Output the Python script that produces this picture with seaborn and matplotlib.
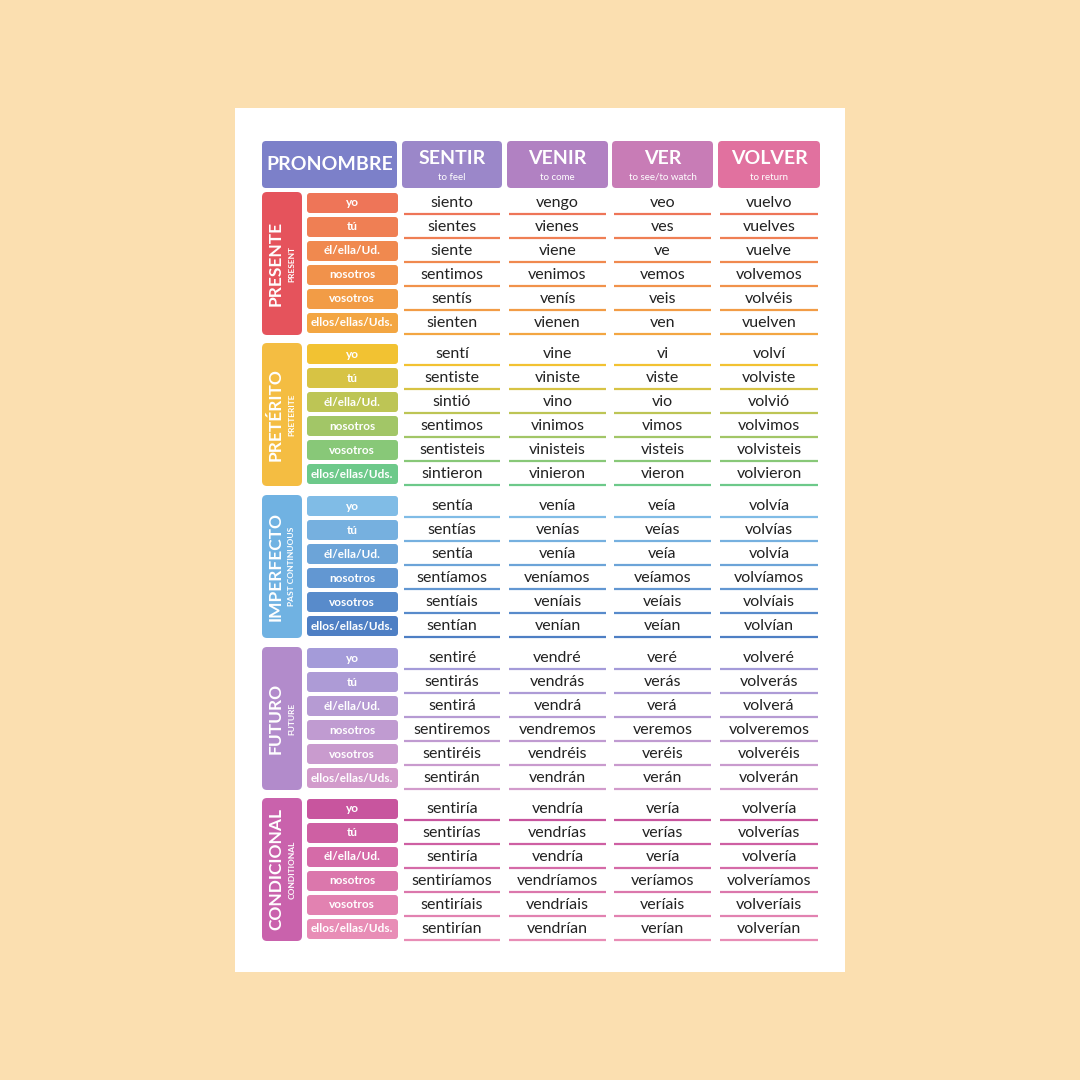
import matplotlib.pyplot as plt
import seaborn as sns
from matplotlib.patches import FancyBboxPatch

verbs = ["SENTIR", "VENIR", "VER", "VOLVER"]
meanings = ["to feel", "to come", "to see/to watch", "to return"]
pronouns = ["yo", "tú", "él/ella/Ud.", "nosotros", "vosotros", "ellos/ellas/Uds."]
tenses = ["PRESENTE", "PRETÉRITO", "IMPERFECTO", "FUTURO", "CONDICIONAL"]
tense_sub = ["PRESENT", "PRETERITE", "PAST CONTINUOUS", "FUTURE", "CONDITIONAL"]

presente = [["siento", "vengo", "veo", "vuelvo"],
            ["sientes", "vienes", "ves", "vuelves"],
            ["siente", "viene", "ve", "vuelve"],
            ["sentimos", "venimos", "vemos", "volvemos"],
            ["sentís", "venís", "veis", "volvéis"],
            ["sienten", "vienen", "ven", "vuelven"]]
preterito = [["sentí", "vine", "vi", "volví"],
             ["sentiste", "viniste", "viste", "volviste"],
             ["sintió", "vino", "vio", "volvió"],
             ["sentimos", "vinimos", "vimos", "volvimos"],
             ["sentisteis", "vinisteis", "visteis", "volvisteis"],
             ["sintieron", "vinieron", "vieron", "volvieron"]]
imperfecto = [["sentía", "venía", "veía", "volvía"],
              ["sentías", "venías", "veías", "volvías"],
              ["sentía", "venía", "veía", "volvía"],
              ["sentíamos", "veníamos", "veíamos", "volvíamos"],
              ["sentíais", "veníais", "veíais", "volvíais"],
              ["sentían", "venían", "veían", "volvían"]]
futuro = [["sentiré", "vendré", "veré", "volveré"],
          ["sentirás", "vendrás", "verás", "volverás"],
          ["sentirá", "vendrá", "verá", "volverá"],
          ["sentiremos", "vendremos", "veremos", "volveremos"],
          ["sentiréis", "vendréis", "veréis", "volveréis"],
          ["sentirán", "vendrán", "verán", "volverán"]]
condicional = [["sentiría", "vendría", "vería", "volvería"],
               ["sentirías", "vendrías", "verías", "volverías"],
               ["sentiría", "vendría", "vería", "volvería"],
               ["sentiríamos", "vendríamos", "veríamos", "volveríamos"],
               ["sentiríais", "vendríais", "veríais", "volveríais"],
               ["sentirían", "vendrían", "verían", "volverían"]]
forms = [presente, preterito, imperfecto, futuro, condicional]

tense_colors = ["#E5535C", "#F4BD42", "#70B2E2", "#B28BCB", "#C962AC"]
pron_ranges = [("#EE7558", "#F3A642"), ("#F2C232", "#6DC98A"),
               ("#80BCE6", "#4E7FC4"), ("#A49BD9", "#D29BCB"),
               ("#C8559E", "#E88DB6")]
head_colors = ["#7C80C9", "#9B87C9", "#B181C2", "#C87CB6", "#E1719F"]

sns.set_theme(style="white")
plt.rcParams['font.family'] = ['Lato', 'DejaVu Sans']

fig = plt.figure(figsize=(10.8, 10.8), dpi=100)
fig.patch.set_facecolor("#FBDFB0")
ax = fig.add_axes([0, 0, 1, 1])
ax.set_xlim(0, 1080)
ax.set_ylim(1080, 0)
ax.axis("off")


def box(x0, y0, x1, y1, color, r=4):
    ax.add_patch(FancyBboxPatch((x0 + r, y0 + r), x1 - x0 - 2 * r, y1 - y0 - 2 * r,
                                boxstyle=f"round,pad={r}", fc=color, ec="none"))


ax.add_patch(plt.Rectangle((235, 108), 610, 864, fc="white", ec="none"))

# header
box(262, 141, 397, 188, head_colors[0])
ax.text(330, 165, "PRONOMBRE", ha="center", va="center", color="white",
        fontsize=14, fontweight="bold")
col_x = [(402, 502), (507, 608), (612, 713), (718, 820)]
for i, (x0, x1) in enumerate(col_x):
    box(x0, 141, x1, 188, head_colors[i + 1])
    cx = (x0 + x1) / 2
    ax.text(cx, 159, verbs[i], ha="center", va="center", color="white",
            fontsize=14, fontweight="bold")
    ax.text(cx, 177, meanings[i], ha="center", va="center", color="white", fontsize=7)

starts = [203, 354, 506, 658, 809]
step = 24
for t in range(5):
    y0 = starts[t]
    top, bot = y0 - 11, y0 + 5 * step + 12
    box(262, top, 302, bot, tense_colors[t], r=5)
    mid = (top + bot) / 2
    ax.text(276, mid, tenses[t], rotation=90, ha="center", va="center",
            color="white", fontsize=12.5, fontweight="bold")
    ax.text(292, mid, tense_sub[t], rotation=90, ha="center", va="center",
            color="white", fontsize=6, fontweight="bold")
    pal = sns.blend_palette(list(pron_ranges[t]), 6)
    for r in range(6):
        y = y0 + r * step
        box(307, y - 10, 398, y + 10, pal[r], r=3)
        ax.text(352, y, pronouns[r], ha="center", va="center", color="white",
                fontsize=8.5, fontweight="bold")
        for c, (x0, x1) in enumerate(col_x):
            ax.text((x0 + x1) / 2, y, forms[t][r][c], ha="center", va="center",
                    color="#222222", fontsize=11.5)
            ax.plot([x0 + 2, x1 - 2], [y + 11, y + 11], color=pal[r], lw=1.6,
                    solid_capstyle="butt")

fig.savefig("out.png", dpi=100, facecolor=fig.get_facecolor())
